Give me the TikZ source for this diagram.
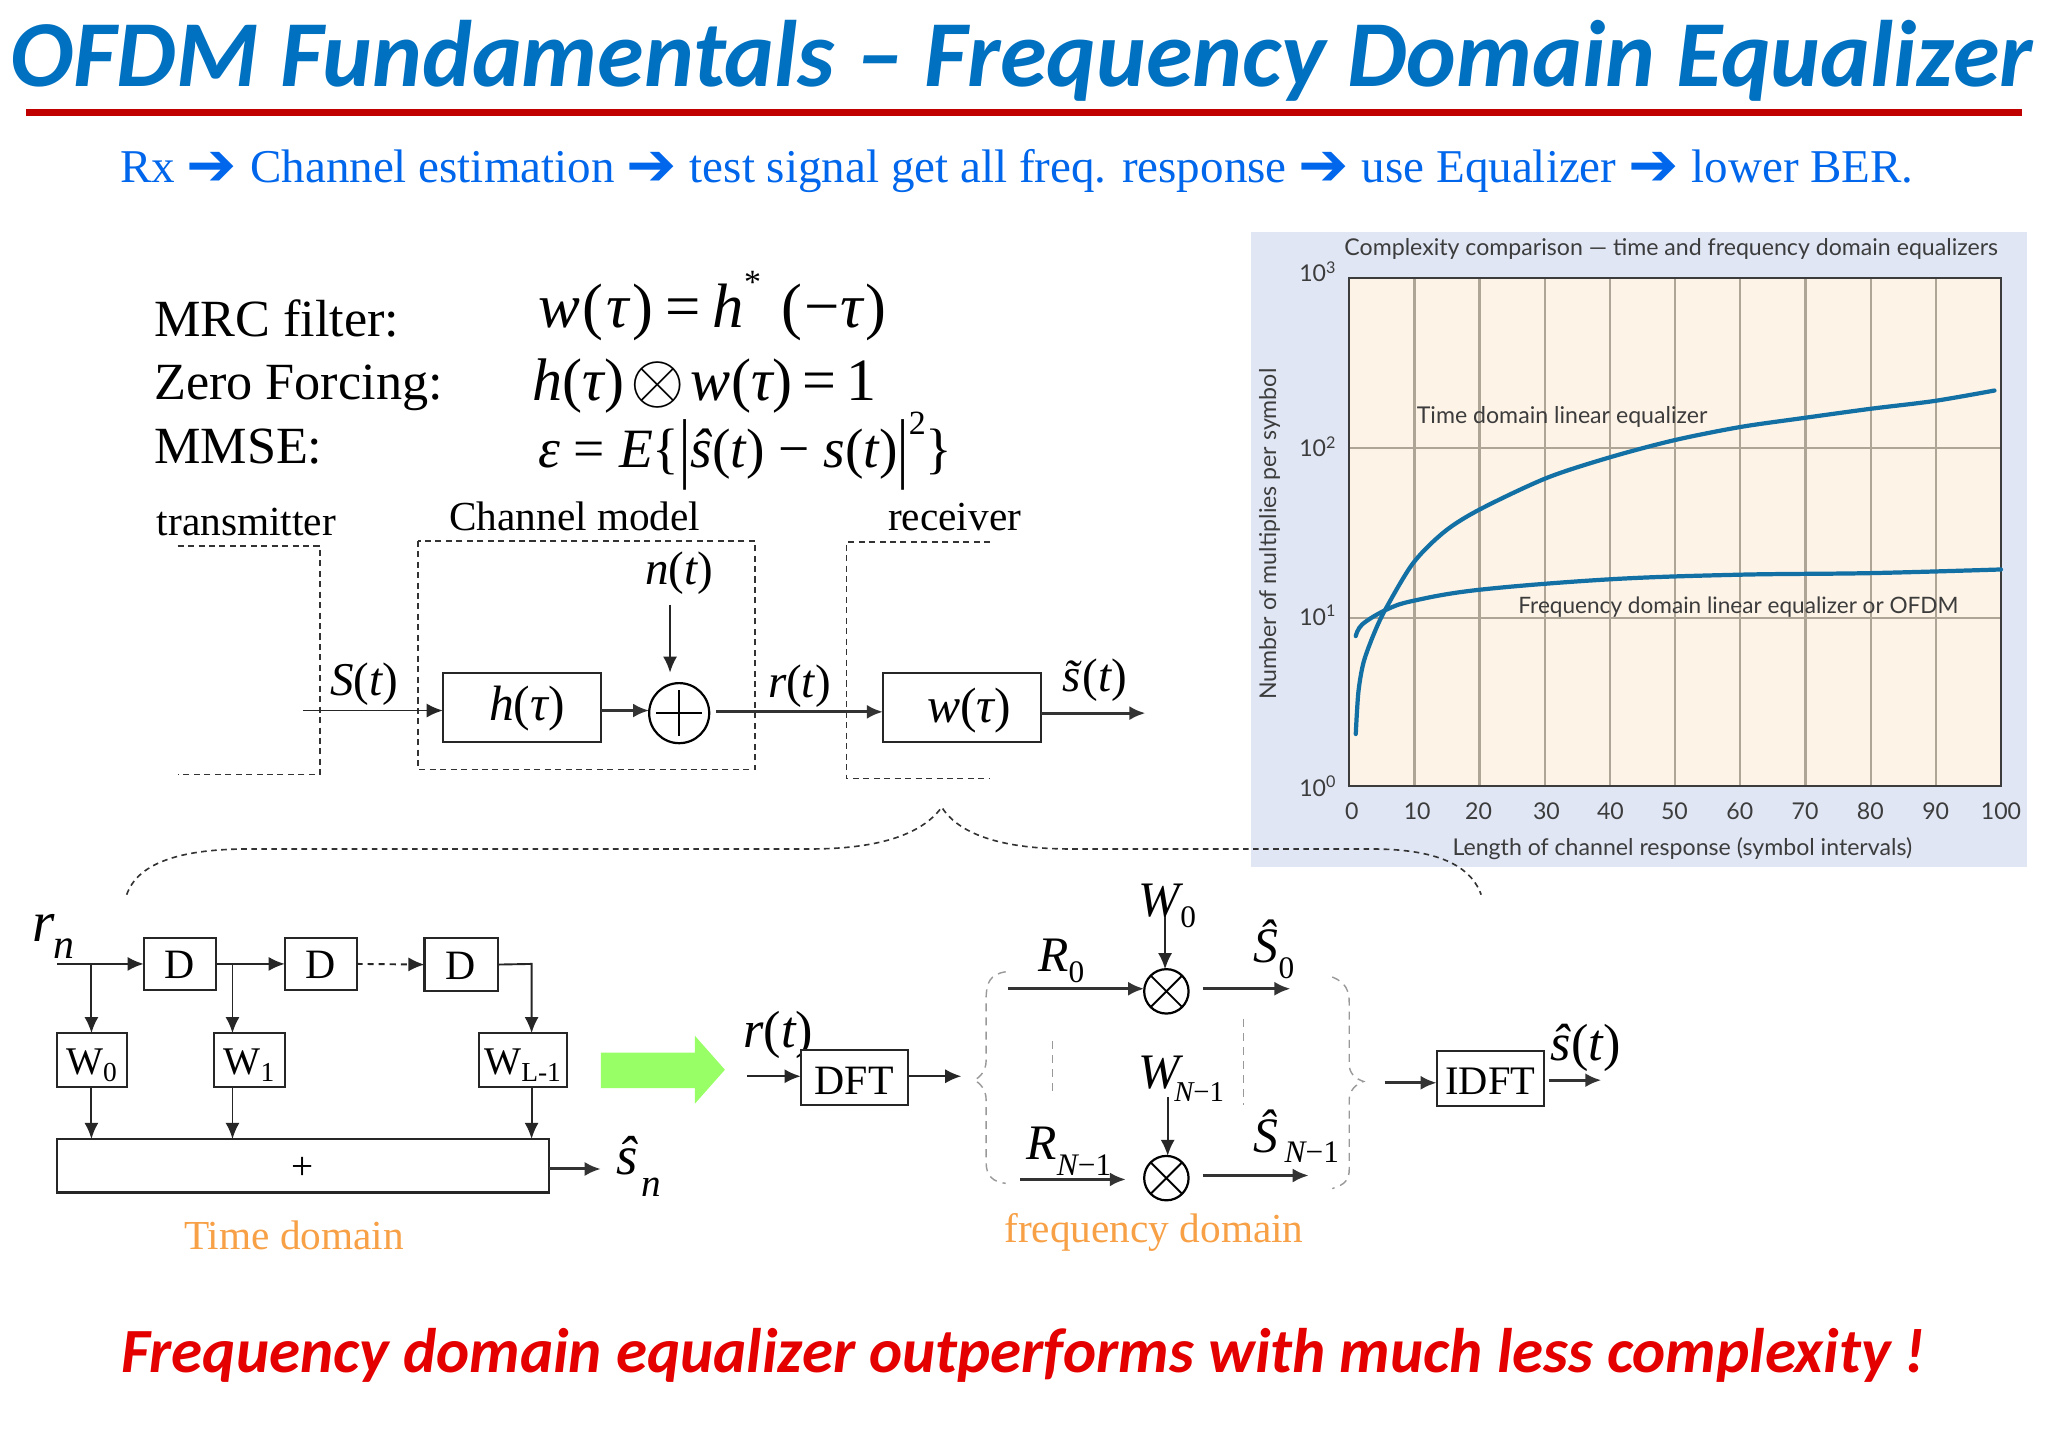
\documentclass[tikz,border=0pt]{standalone}
\usepackage{fontspec}
\setmainfont{Liberation Serif}
\newfontfamily\titlefont{Carlito}
\newfontfamily\chartfont{Lato}
\newfontfamily\arrowfont{DejaVu Sans}
\usetikzlibrary{arrows.meta,calc}
\newcommand\fsz[1]{\fontsize{\fpeval{#1*0.65}}{\fpeval{#1*0.8}}\selectfont}
\newcommand\iv[1]{{\itshape #1}}
\newcommand\rarr{\raisebox{-1.5pt}{\arrowfont\fsz{46}\symbol{"2794}}\kern0.7pt}
\newcommand\lowsub[3]{\raisebox{\fpeval{-#1*0.65}pt}{\fsz{#2}#3}}
\definecolor{titleblue}{RGB}{0,112,192}
\definecolor{subblue}{RGB}{0,102,235}
\definecolor{rulered}{RGB}{192,0,0}
\definecolor{orangetxt}{RGB}{247,160,70}
\definecolor{panel}{RGB}{224,230,244}
\definecolor{plotbg}{RGB}{253,243,231}
\definecolor{gridc}{RGB}{175,165,150}
\definecolor{curve}{RGB}{18,112,165}
\definecolor{arrowgreen}{RGB}{153,255,102}
\definecolor{chartink}{RGB}{60,60,60}
\tikzset{
 x=0.65pt,y=-0.65pt,
 txt/.style={inner sep=0,outer sep=0,anchor=base west},
 ctr/.style={inner sep=0,outer sep=0,anchor=center},
 blockbox/.style={draw=black!85,line width=1pt,inner sep=0,outer sep=0,fill=white,text height=0pt,text depth=0pt},
 roundop/.style={circle,draw=black,line width=1.1pt,inner sep=0,outer sep=0},
 sig/.style={-{Latex[length=8pt,width=7pt]},line width=0.95pt,black!85},
 sigthick/.style={-{Latex[length=8pt,width=7pt]},line width=1.5pt,black!80},
 dashbox/.style={dashed,dash pattern=on 3pt off 2.2pt,line width=0.8pt,black!80},
 greydash/.style={dashed,dash pattern=on 4pt off 3pt,line width=0.7pt,black!40},
 chartlbl/.style={inner sep=0,outer sep=0,anchor=center,text=chartink,font=\chartfont\fsz{17.7}},
 gridline/.style={gridc,line width=1.1pt},
 curveline/.style={curve,line width=2.1pt,line cap=round},
 orangelbl/.style={txt,text=orangetxt,font=\fsz{31.6}},
 mathlbl/.style={ctr,font=\fsz{36}},
}
\begin{document}
\begin{tikzpicture}
\useasboundingbox (0,0) rectangle (1568,1107.8);
\fill[white] (0,0) rectangle (1568,1107.8);
% ---- header
\node[txt,text=titleblue,font=\titlefont\fsz{72.3}\bfseries\itshape] (title) at (8,66) {OFDM Fundamentals – Frequency Domain Equalizer};
\fill[rulered] (20,83.5) rectangle (1548,89);
\node[txt,text=subblue,font=\fsz{36}] (sub) at (92,140) {Rx \rarr{} Channel estimation \rarr{} test signal get all freq. response \rarr{} use Equalizer \rarr{} lower BER.};
% ---- equations
\node[txt,font=\fsz{40}] (l1) at (118,258) {MRC filter:};
\node[txt,font=\fsz{40}] (l2) at (118,306) {Zero Forcing:};
\node[txt,font=\fsz{40}] (l3) at (118,355) {MMSE:};
\node[txt,font=\fsz{48}] (e1) at (412,251) {\iv{w}\kern1.5pt(\kern1.5pt\iv{τ}\kern1.5pt)\kern6pt=\kern6pt\iv{h}\raisebox{0.55em}{\fsz{26}*}\kern10pt(\kern1.5pt−\iv{τ}\kern1.5pt)};
\node[txt,font=\fsz{46}] (e2) at (408,307) {\iv{h}(\iv{τ})\kern3pt\raisebox{-1pt}{\scalebox{1.4}{$\otimes$}}\kern3pt\iv{w}(\iv{τ})\kern5pt=\kern5pt1};
\node[txt,font=\fsz{42.5}] (e3) at (412,358) {\iv{ε} = \iv{E}\{\raisebox{-3pt}{\scalebox{1}[1.4]{|}}\iv{ŝ}(\iv{t}) − \iv{s}(\iv{t})\raisebox{-3pt}{\scalebox{1}[1.4]{|}}\raisebox{0.6em}{\fsz{26}2}\}};
% ---- channel model
\node[txt,font=\fsz{31.7}] (ltx) at (120,410) {transmitter};
\node[txt,font=\fsz{31.6}] (lch) at (344,406) {Channel model};
\node[txt,font=\fsz{31.6}] (lrx) at (680,406) {receiver};
\draw[dashbox] (136,418) -- (245,418) -- (245,593) -- (136,593);
\draw[dashbox] (320,414) rectangle (578,589);
\draw[dashbox] (758,415) -- (648,415) -- (648,596) -- (758,596);
\node[blockbox,minimum width=121*0.65pt,minimum height=53*0.65pt,font=\fsz{38}] (hb) at (399.5,541.5) {\hspace*{5pt}\raisebox{-6.5pt}{\iv{h}(\iv{τ})}};
\node[roundop,minimum size=46*0.65pt] (sum) at (520,546) {};
\draw[line width=1.1pt] ($(sum.west)!.12!(sum.east)$) -- ($(sum.west)!.88!(sum.east)$);
\draw[line width=1.1pt] ($(sum.north)!.12!(sum.south)$) -- ($(sum.north)!.88!(sum.south)$);
\node[blockbox,minimum width=121*0.65pt,minimum height=53*0.65pt,font=\fsz{38}] (wb) at (736.5,541.5) {\hspace*{7pt}\raisebox{-7.8pt}{\iv{w}(\iv{τ})}};
\node[mathlbl] (nt) at (520,439) {\iv{n}(\iv{t})};
\node[mathlbl] (st) at (279,524) {\iv{S}(\iv{t})};
\node[mathlbl] (rt) at (612,525) {\iv{r}(\iv{t})};
\node[mathlbl] (stil) at (838,521) {{\itshape\~{s}}\kern1pt(\iv{t})};
\coordinate (nin) at (513,463);
\coordinate (ntip) at (513,515);
\coordinate (sin) at (232,544);
\coordinate (wout) at (877,546);
\coordinate (sumgap) at (548,545);
\draw[sig] (nin) -- (ntip);
\draw[sig] (sin) -- (hb.west |- sin);
\draw[sigthick] (hb.east |- sin) -- (sum.west |- sin);
\draw[sigthick] (sumgap) -- (wb.west |- sumgap);
\draw[sigthick] (wb.east |- wout) -- (wout);
% ---- chart
\fill[panel] (958,178) rectangle (1552,664);
\fill[plotbg] (1033,213) rectangle (1532,602);
\foreach \k in {1,...,9} \draw[gridline] ({1033+49.9*\k},213) -- ({1033+49.9*\k},602);
\draw[gridline] (1033,343) -- (1532,343);
\draw[gridline] (1033,473) -- (1532,473);
\draw[chartink,line width=0.8pt] (1033,213) rectangle (1532,602);
\draw[curveline] plot[smooth,tension=0.5] coordinates {(1038,562)(1040,530)(1044,507)(1052,485)(1061,466)(1082,431)(1106,407)(1133,390)(1184,366)(1233,350)(1282,337)(1332,327)(1381,320)(1432,313)(1481,307)(1527,299)};
\draw[curveline] plot[smooth,tension=0.6] coordinates {(1038,487)(1043,478)(1061,467)(1082,460)(1133,451.5)(1233,443.5)(1332,440)(1432,438.8)(1532,436)};
\node[chartlbl] (ct) at (1279.5,191) {Complexity comparison — time and frequency domain equalizers};
\node[chartlbl] (yl) at (972,409) [rotate=90] {Number of multiplies per symbol};
\node[chartlbl] (xl) at (1288,650) {Length of channel response (symbol intervals)};
\node[chartlbl] (y3) at (1009,208) {10\textsuperscript{3}};
\node[chartlbl] (y2) at (1009,342) {10\textsuperscript{2}};
\node[chartlbl] (y1) at (1009,471) {10\textsuperscript{1}};
\node[chartlbl] (y0) at (1009,602) {10\textsuperscript{0}};
\foreach \lb/\xx in {0/1035,10/1085,20/1132,30/1184,40/1233,50/1282,60/1332,70/1382,80/1432,90/1482,100/1532}
 \node[chartlbl] (xt\lb) at (\xx,621) {\lb};
\node[chartlbl] (c1) at (1196,319.5) {Time domain linear equalizer};
\node[chartlbl,font=\chartfont\fsz{17.3}] (c2) at (1331,464.5) {Frequency domain linear equalizer or OFDM};
% ---- dashed brace
\draw[dash pattern=on 2.8pt off 2.2pt,line width=0.8pt,black!80]
 (97,685) .. controls (105,662) and (135,650) .. (190,650) -- (620,650)
 .. controls (670,650) and (705,640) .. (721,618)
 .. controls (735,640) and (770,650) .. (820,650) -- (1050,650)
 .. controls (1095,650) and (1125,660) .. (1134,685);
% ---- time-domain equalizer
\node[txt,font=\fsz{44}\itshape] (rn) at (25,721) {r\kern-1pt\lowsub{13}{32}{n}};
\node[blockbox,minimum width=55*0.65pt,minimum height=40*0.65pt,font=\fsz{32}] (d1) at (137.5,738) {\raisebox{-7.5pt}{D}};
\node[blockbox,minimum width=55*0.65pt,minimum height=40*0.65pt,font=\fsz{32}] (d2) at (245.5,738) {\raisebox{-7.5pt}{D}};
\node[blockbox,minimum width=56*0.65pt,minimum height=41*0.65pt,font=\fsz{32}] (d3) at (353,738.5) {\raisebox{-7.5pt}{D}};
\node[blockbox,minimum width=53*0.65pt,minimum height=41*0.65pt,font=\fsz{30}] (w0) at (70.5,811.5) {\raisebox{-7.4pt}{W\textsubscript{0}}};
\node[blockbox,minimum width=54*0.65pt,minimum height=41*0.65pt,font=\fsz{30}] (w1) at (191,811.5) {\raisebox{-7.4pt}{W\textsubscript{1}}};
\node[blockbox,minimum width=67*0.65pt,minimum height=41*0.65pt,font=\fsz{30}] (wl) at (400.5,811.5) {\raisebox{-7.4pt}{W\textsubscript{L-1}}};
\node[blockbox,minimum width=376*0.65pt,minimum height=41*0.65pt,font=\fsz{30}] (add) at (232,892.5) {\raisebox{-6.8pt}{+}};
\coordinate (rin) at (44,738);
\coordinate (j0) at (70,738);
\coordinate (j1) at (178,738);
\coordinate (bendl) at (407,738);
\coordinate (addout) at (460,895);
\draw[sig] (rin) -- (d1.west);
\draw[sig] (d1.east) -- (d2.west);
\draw[sig,dash pattern=on 3pt off 2.5pt] (d2.east) -- (d3.west);
\draw[sig] (j0) -- (j0 |- w0.north);
\draw[sig] (j1) -- (j1 |- w1.north);
\draw[sig] (d3.east) -- (bendl) -- (bendl |- wl.north);
\draw[sig] (j0 |- w0.south) -- (j0 |- add.north);
\draw[sig] (j1 |- w1.south) -- (j1 |- add.north);
\draw[sig] (bendl |- wl.south) -- (bendl |- add.north);
\draw[sigthick] (add.east |- addout) -- (addout);
\node[txt,font=\fsz{42}\itshape] (shat) at (472,899) {ŝ\kern2pt\lowsub{17}{30}{n}};
\node[orangelbl] (ltime) at (141,957) {Time domain};
% ---- green arrow
\fill[arrowgreen] (460,806) -- (532,806) -- (532,793) -- (555,819) -- (532,845) -- (532,833) -- (460,833) -- cycle;
% ---- frequency-domain equalizer
\node[mathlbl,font=\fsz{40}] (rtf) at (596,792) {\iv{r}(\iv{t})};
\node[blockbox,minimum width=82*0.65pt,minimum height=42*0.65pt,font=\fsz{32}] (dft) at (654,825) {\raisebox{-8.2pt}{DFT}};
\node[blockbox,minimum width=82*0.65pt,minimum height=42*0.65pt,font=\fsz{31}] (idft) at (1141,826) {\raisebox{-7.9pt}{IDFT}};
\coordinate (dftin) at (572,824);
\coordinate (dftout) at (736,824);
\coordinate (idin) at (1060,829);
\coordinate (idout) at (1226,827);
\coordinate (idgap) at (1186,827);
\draw[sig] (dftin) -- (dft.west |- dftin);
\draw[sig] (dft.east |- dftout) -- (dftout);
\draw[sigthick] (idin) -- (idft.west |- idin);
\draw[sigthick] (idgap) -- (idout);
\node[mathlbl,font=\fsz{40}] (shatt) at (1214,802) {\iv{ŝ}(\iv{t})};
\node[roundop,minimum size=34*0.65pt] (m0) at (893,759) {};
\node[roundop,minimum size=34*0.65pt] (m1) at (893,902) {};
\draw[line width=0.9pt] (m0.45) -- (m0.225) (m0.135) -- (m0.315);
\draw[line width=0.9pt] (m1.45) -- (m1.225) (m1.135) -- (m1.315);
\coordinate (r0in) at (772,757);
\coordinate (s0gap) at (921,757);
\coordinate (s0out) at (988,757);
\coordinate (r1in) at (781,903);
\coordinate (r1tip) at (862,903);
\coordinate (s1gap) at (921,900);
\coordinate (s1out) at (1002,900);
\coordinate (w0in) at (892,700);
\coordinate (w1in) at (894,840);
\draw[sigthick] (r0in) -- (m0.west |- r0in);
\draw[sigthick] (s0gap) -- (s0out);
\draw[sigthick] (r1in) -- (r1tip);
\draw[sigthick] (s1gap) -- (s1out);
\draw[sig] (w0in) -- (m0.north -| w0in);
\draw[sig] (w1in) -- (m1.north -| w1in);
\node[txt,font=\fsz{38}\itshape] (tw0) at (872,702) {W\lowsub{8}{24}{\upshape 0}};
\node[txt,font=\fsz{38}\itshape] (tr0) at (795,744) {R\lowsub{8}{24}{\upshape 0}};
\node[txt,font=\fsz{38}\itshape] (ts0) at (960,737) {Ŝ\lowsub{12}{24}{\upshape 0}};
\node[txt,font=\fsz{38}\itshape] (twn) at (872,833) {W\kern-3pt\lowsub{10}{22}{N\upshape −1}};
\node[txt,font=\fsz{38}\itshape] (trn) at (786,888) {R\lowsub{12}{24}{N\upshape −1}};
\node[txt,font=\fsz{38}\itshape] (tsn) at (960,882) {Ŝ\kern3pt\lowsub{8}{24}{N\upshape −1}};
\draw[greydash] (806,797) -- (806,838);
\draw[greydash] (952,780) -- (952,846);
\draw[greydash] (770,744) .. controls (758,746) and (755,752) .. (755,765) -- (755,812) .. controls (755,820) and (750,825) .. (746,827) .. controls (750,829) and (755,834) .. (755,842) -- (755,890) .. controls (755,900) and (760,905) .. (770,906);
\draw[greydash] (1020,748) .. controls (1030,752) and (1033,758) .. (1033,768) -- (1033,815) .. controls (1033,822) and (1038,826) .. (1044,828) .. controls (1038,830) and (1033,835) .. (1033,842) -- (1033,895) .. controls (1033,903) and (1030,907) .. (1020,910);
\node[orangelbl] (lfreq) at (769,951) {frequency domain};
% ---- conclusion
\node[txt,text=red!90!black,font=\titlefont\fsz{48.2}\bfseries\itshape] (concl) at (93,1051) {Frequency domain equalizer outperforms with much less complexity !};
\end{tikzpicture}
\end{document}
